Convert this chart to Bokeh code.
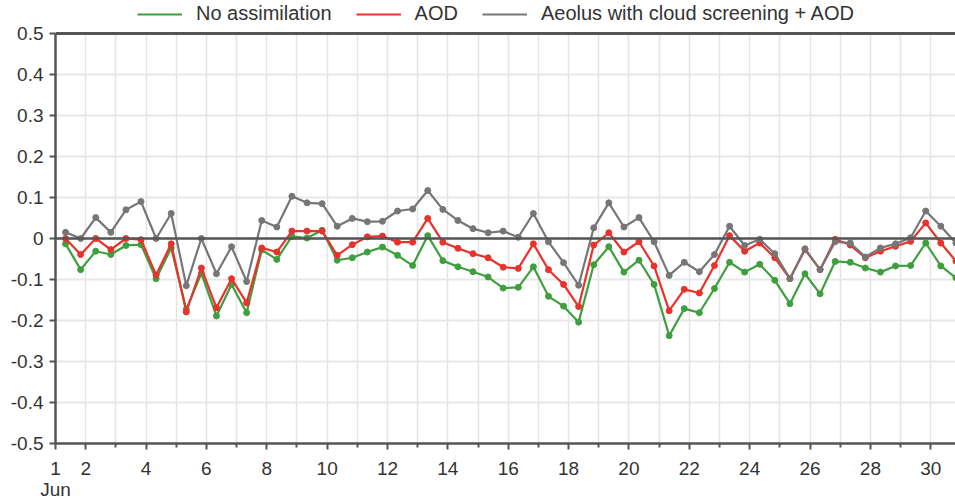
import pandas as pd
from bokeh.plotting import figure
from bokeh.models import (Range1d, FixedTicker, Span, Legend, LegendItem, BoxAnnotation)
from bokeh.embed import file_html
from bokeh.resources import INLINE

# ---- data ----
times = pd.date_range("2020-06-01 08:00", periods=60, freq="12h")
no_assim = [-0.013, -0.076, -0.031, -0.039, -0.017, -0.015, -0.098, -0.023, -0.173, -0.085,
            -0.189, -0.112, -0.181, -0.028, -0.051, 0.005, 0.001, 0.020, -0.053, -0.047,
            -0.033, -0.021, -0.041, -0.066, 0.007, -0.054, -0.069, -0.081, -0.094, -0.121,
            -0.119, -0.069, -0.141, -0.165, -0.204, -0.064, -0.020, -0.082, -0.053, -0.112,
            -0.237, -0.171, -0.181, -0.122, -0.058, -0.082, -0.063, -0.102, -0.159, -0.086,
            -0.135, -0.056, -0.058, -0.072, -0.082, -0.067, -0.066, -0.011, -0.067, -0.096]
aod = [0.0, -0.039, 0.0, -0.027, 0.0, -0.003, -0.089, -0.013, -0.179, -0.072,
       -0.169, -0.098, -0.157, -0.023, -0.033, 0.018, 0.018, 0.018, -0.041, -0.015,
       0.004, 0.006, -0.009, -0.009, 0.049, -0.009, -0.024, -0.037, -0.047, -0.070,
       -0.073, -0.013, -0.076, -0.112, -0.166, -0.016, 0.014, -0.033, -0.008, -0.067,
       -0.176, -0.124, -0.133, -0.066, 0.007, -0.031, -0.011, -0.047, -0.098, -0.027,
       -0.076, -0.002, -0.016, -0.047, -0.031, -0.019, -0.007, 0.038, -0.011, -0.055]
aeolus = [0.015, 0.0, 0.051, 0.015, 0.070, 0.090, 0.0, 0.061, -0.115, 0.0,
          -0.086, -0.020, -0.105, 0.044, 0.028, 0.103, 0.087, 0.085, 0.030, 0.049,
          0.041, 0.042, 0.067, 0.072, 0.117, 0.071, 0.044, 0.024, 0.014, 0.018,
          0.003, 0.061, -0.008, -0.059, -0.114, 0.026, 0.087, 0.028, 0.051, -0.008,
          -0.090, -0.058, -0.081, -0.039, 0.030, -0.017, -0.002, -0.037, -0.098, -0.025,
          -0.076, -0.008, -0.011, -0.045, -0.023, -0.013, 0.002, 0.067, 0.030, -0.011]
series_names = ["No assimilation", "AOD", "Aeolus with cloud screening + AOD"]
series_colors = ["#3f9f3f", "#e8322c", "#767676"]
x_major_days = [1, 2, 4, 6, 8, 10, 12, 14, 16, 18, 20, 22, 24, 26, 28, 30]
x_minor_days = [3, 5, 7, 9, 11, 13, 15, 17, 19, 21, 23, 25, 27, 29]
y_ticks = [-0.5, -0.4, -0.3, -0.2, -0.1, 0, 0.1, 0.2, 0.3, 0.4, 0.5]
y_labels = ["-0.5", "-0.4", "-0.3", "-0.2", "-0.1", "0", "0.1", "0.2", "0.3", "0.4", "0.5"]

start = pd.Timestamp("2020-06-01")
day = [1 + (t - start) / pd.Timedelta(days=1) for t in times]

FONT = "Liberation Sans"
# frame runs to the top of the page; the strip above 0.5 holds the legend
p = figure(width=955, height=502, output_backend="svg", toolbar_location=None,
           x_range=Range1d(1, 30.82), y_range=Range1d(-0.5, 0.5805),
           min_border_left=55, min_border_right=0, min_border_top=0, min_border_bottom=59)
p.outline_line_color = None
p.background_fill_color = "white"
p.border_fill_color = "white"

# grid
p.xaxis.ticker = FixedTicker(ticks=x_major_days, minor_ticks=x_minor_days)
p.yaxis.ticker = FixedTicker(ticks=y_ticks)
p.yaxis.bounds = (-0.5, 0.5)
p.xgrid.grid_line_color = "#e4e4e4"
p.xgrid.grid_line_width = 1.5
p.xgrid.minor_grid_line_color = "#e4e4e4"
p.xgrid.minor_grid_line_width = 1.5
p.ygrid.grid_line_color = "#e8e8e8"
p.ygrid.grid_line_width = 2

overrides = {d: str(d) for d in x_major_days}
overrides[1] = "1\nJun"
p.xaxis.major_label_overrides = overrides
p.yaxis.major_label_overrides = {t: l for t, l in zip(y_ticks, y_labels)}

for ax in (p.xaxis, p.yaxis):
    ax.axis_line_color = "#555555"
    ax.axis_line_width = 2.5
    ax.major_tick_line_color = "#555555"
    ax.major_tick_line_width = 2
    ax.major_tick_in = 0
    ax.major_tick_out = 6
    ax.minor_tick_line_color = "#555555"
    ax.minor_tick_line_width = 2
    ax.minor_tick_in = 0
    ax.minor_tick_out = 4
    ax.major_label_text_font = FONT
    ax.major_label_text_font_size = "19px"
    ax.major_label_text_color = "#333333"
p.yaxis.minor_tick_line_color = None
p.xaxis.major_label_standoff = 8
p.xaxis.major_label_text_line_height = 1.0
p.yaxis.major_label_standoff = 6

# blank strip above the plot area (hides grid lines there)
p.add_layout(BoxAnnotation(bottom=0.5, fill_color="white", fill_alpha=1, line_color=None,
                           level="underlay"))
p.add_layout(Span(location=0, dimension="width", line_color="#555555", line_width=2.5))
p.add_layout(Span(location=0.5, dimension="width", line_color="#555555", line_width=3))

items = []
for name, vals, col in zip(series_names, [no_assim, aod, aeolus], series_colors):
    r = p.line(day, vals, line_color=col, line_width=2.2)
    p.scatter(day, vals, size=6, fill_color=col, line_color=col)
    items.append(LegendItem(label=name, renderers=[r]))

legend = Legend(items=items, orientation="horizontal", location=(82, 418),
                label_text_font=FONT, label_text_font_size="20px", label_text_color="#333333",
                glyph_width=45, glyph_height=20, label_height=20, label_standoff=14, spacing=24,
                padding=0, margin=0, border_line_color=None, background_fill_alpha=0)
p.add_layout(legend, "center")

open("out.html", "w").write(file_html(p, INLINE))
